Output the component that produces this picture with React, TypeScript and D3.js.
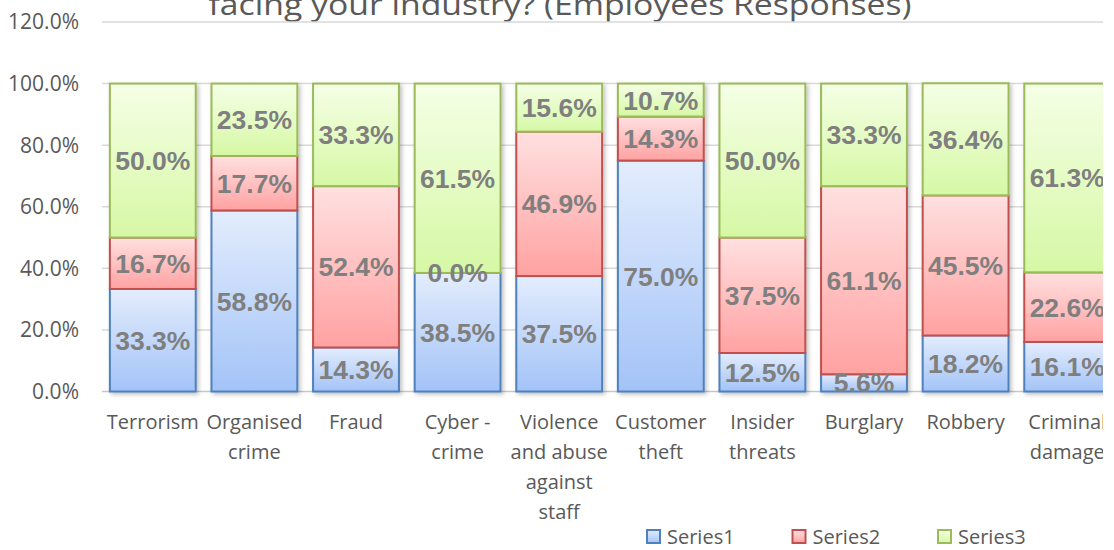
import React, { useEffect, useRef } from "react";
import * as d3 from "d3";

const categories: string[][] = [
  ["Terrorism"],
  ["Organised", "crime"],
  ["Fraud"],
  ["Cyber -", "crime"],
  ["Violence", "and abuse", "against", "staff"],
  ["Customer", "theft"],
  ["Insider", "threats"],
  ["Burglary"],
  ["Robbery"],
  ["Criminal", "damage"],
];

const series1 = [33.3, 58.8, 14.3, 38.5, 37.5, 75.0, 12.5, 5.6, 18.2, 16.1];
const series2 = [16.7, 17.7, 52.4, 0.0, 46.9, 14.3, 37.5, 61.1, 45.5, 22.6];
const series3 = [50.0, 23.5, 33.3, 61.5, 15.6, 10.7, 50.0, 33.3, 36.4, 61.3];

const seriesNames = ["Series1", "Series2", "Series3"];
const yTicks = [0, 20, 40, 60, 80, 100, 120];
const title = "facing your industry? (Employees Responses)";

const styles = [
  { top: "#e3edfd", bottom: "#a3c3f7", stroke: "#4f81bd" },
  { top: "#ffe0e0", bottom: "#ffa2a2", stroke: "#c0504d" },
  { top: "#f5ffe6", bottom: "#d6f8a5", stroke: "#9bbb59" },
];

export default function App() {
  const svgRef = useRef<SVGSVGElement>(null);
  const width = 1114;
  const height = 550;

  useEffect(() => {
    if (!svgRef.current) return;
    const svg = d3.select(svgRef.current);
    svg.selectAll("*").remove();

    const labelFont = "'Open Sans', sans-serif";
    const textColor = "#595959";

    const x = d3
      .scaleBand<number>()
      .domain(d3.range(categories.length))
      .range([102, 1118])
      .paddingInner(0.155)
      .paddingOuter(0.0775);

    const y = d3.scaleLinear().domain([0, 120]).range([391.5, 22]);

    const defs = svg.append("defs");
    styles.forEach((s, i) => {
      const g = defs
        .append("linearGradient")
        .attr("id", `grad${i}`)
        .attr("x1", 0)
        .attr("y1", 0)
        .attr("x2", 0)
        .attr("y2", 1);
      g.append("stop").attr("offset", "0%").attr("stop-color", s.top);
      g.append("stop").attr("offset", "100%").attr("stop-color", s.bottom);
    });
    const shadow = defs
      .append("filter")
      .attr("id", "shadow")
      .attr("x", "-20%")
      .attr("y", "-20%")
      .attr("width", "140%")
      .attr("height", "140%");
    shadow
      .append("feDropShadow")
      .attr("dx", 2)
      .attr("dy", 2)
      .attr("stdDeviation", 2)
      .attr("flood-color", "#000")
      .attr("flood-opacity", 0.25);

    // the source image is cut at the right edge
    defs
      .append("clipPath")
      .attr("id", "clip")
      .append("rect")
      .attr("x", 0)
      .attr("y", 0)
      .attr("width", 1103)
      .attr("height", height);

    const root = svg.append("g").attr("clip-path", "url(#clip)");

    // Title (top clipped like the source)
    root
      .append("text")
      .attr("x", 560)
      .attr("y", 15)
      .attr("text-anchor", "middle")
      .attr("font-family", labelFont)
      .attr("font-size", 30)
      .attr("fill", textColor)
      .attr("textLength", 703)
      .attr("lengthAdjust", "spacingAndGlyphs")
      .text(title);

    // Gridlines
    root
      .append("g")
      .selectAll("line")
      .data(yTicks)
      .join("line")
      .attr("x1", 102)
      .attr("x2", 1118)
      .attr("y1", (d) => y(d))
      .attr("y2", (d) => y(d))
      .attr("stroke", (d) => (d === 0 ? "#c8c8c8" : "#d9d9d9"))
      .attr("stroke-width", 1.5);

    // Y tick labels
    root
      .append("g")
      .selectAll("text")
      .data(yTicks)
      .join("text")
      .attr("x", 79)
      .attr("y", (d) => y(d))
      .attr("dy", "0.35em")
      .attr("text-anchor", "end")
      .attr("font-family", labelFont)
      .attr("font-size", 21)
      .attr("fill", textColor)
      .text((d) => `${d.toFixed(1)}%`);

    const allSeries = [series1, series2, series3];
    const stacked = d3
      .stack<number>()
      .keys(["0", "1", "2"])
      .value((i, key) => allSeries[+key][i])(d3.range(categories.length));

    const bars = root.append("g").attr("filter", "url(#shadow)");
    stacked.forEach((layer, si) => {
      bars
        .append("g")
        .selectAll("rect")
        .data(layer)
        .join("rect")
        .attr("x", (_, i) => x(i)!)
        .attr("width", x.bandwidth())
        .attr("y", (d) => y(d[1]))
        .attr("height", (d) => y(d[0]) - y(d[1]))
        .attr("fill", `url(#grad${si})`)
        .attr("stroke", styles[si].stroke)
        .attr("stroke-width", 2);
    });

    // Data labels
    const labels = root.append("g");
    stacked.forEach((layer, si) => {
      labels
        .append("g")
        .selectAll("text")
        .data(layer)
        .join("text")
        .attr("x", (_, i) => x(i)! + x.bandwidth() / 2)
        .attr("y", (d) => y((d[0] + d[1]) / 2))
        .attr("dy", "0.36em")
        .attr("text-anchor", "middle")
        .attr("font-family", "'Liberation Sans', Arial, sans-serif")
        .attr("font-weight", "bold")
        .attr("font-size", 26.5)
        .attr("fill", "#7f7f7f")
        .text((_, i) => `${allSeries[si][i].toFixed(1)}%`);
    });

    // Category labels
    const cats = root.append("g");
    categories.forEach((lines, i) => {
      const t = cats
        .append("text")
        .attr("text-anchor", "middle")
        .attr("font-family", labelFont)
        .attr("font-size", 20)
        .attr("fill", textColor);
      lines.forEach((ln, li) => {
        t.append("tspan")
          .attr("x", x(i)! + x.bandwidth() / 2)
          .attr("y", 429 + li * 30)
          .text(ln);
      });
    });

    // Legend
    const legend = root
      .append("g")
      .selectAll("g")
      .data(seriesNames)
      .join("g")
      .attr("transform", (_, i) => `translate(${647 + i * 145.5},530)`);
    legend
      .append("rect")
      .attr("width", 13)
      .attr("height", 13)
      .attr("fill", (_, i) => `url(#grad${i})`)
      .attr("stroke", (_, i) => styles[i].stroke)
      .attr("stroke-width", 2);
    legend
      .append("text")
      .attr("x", 20)
      .attr("y", 7)
      .attr("dy", "0.35em")
      .attr("font-family", labelFont)
      .attr("font-size", 20)
      .attr("fill", textColor)
      .text((d) => d);
  }, []);

  return (
    <svg
      ref={svgRef}
      width={width}
      height={height}
      style={{ position: "absolute", left: 0, top: 0, background: "#fff" }}
    />
  );
}
